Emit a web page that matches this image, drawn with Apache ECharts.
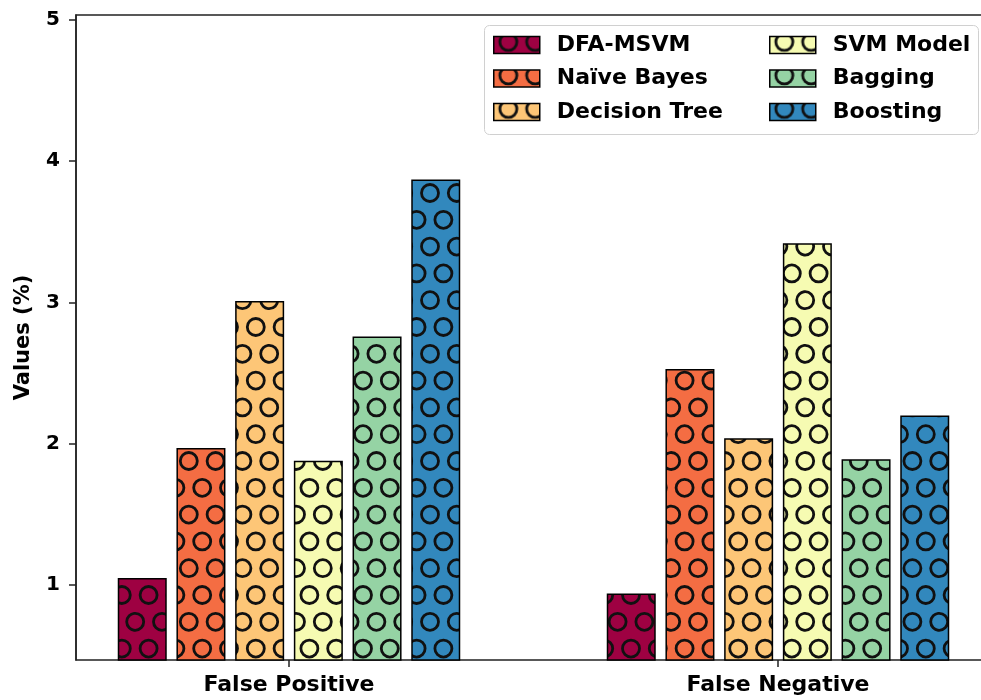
<!DOCTYPE html>
<html><head><meta charset="utf-8">
<script src="https://cdn.jsdelivr.net/npm/echarts@6/dist/echarts.min.js"></script>
<style>html,body{margin:0;padding:0;background:#fff}#c{width:981px;height:700px}</style>
</head><body><div id="c"></div>
<script>
const categories = ['False Positive', 'False Negative'];
const seriesNames = ['DFA-MSVM', 'Naïve Bayes', 'Decision Tree', 'SVM Model', 'Bagging', 'Boosting'];
const dfaMsvm = [1.05, 0.94];
const naiveBayes = [1.97, 2.53];
const decisionTree = [3.01, 2.04];
const svmModel = [1.88, 3.42];
const bagging = [2.76, 1.89];
const boosting = [3.87, 2.20];
const yTicks = [1, 2, 3, 4, 5];
const colors = ['#9e0142', '#f46d43', '#fdc677', '#f6fbb2', '#95d3a4', '#3288bd'];

function makePattern(color) {
  const S = 26.8, W = 134, H = 268;
  const c = document.createElement('canvas');
  c.width = W; c.height = H;
  const g = c.getContext('2d');
  g.fillStyle = color; g.fillRect(0, 0, W, H);
  g.strokeStyle = '#111'; g.lineWidth = 2.8;
  for (let k = -1; k <= 10; k++) {
    const y = 5.4 + S * k;
    const xo = (((k % 2) + 2) % 2 === 1) ? 1.2 : 14.6;
    for (let i = -1; i <= 5; i++) {
      const x = xo + S * i;
      g.beginPath(); g.arc(x, y, 8.5, 0, Math.PI * 2); g.stroke();
    }
  }
  return { image: c, repeat: 'repeat' };
}

const seriesData = [dfaMsvm, naiveBayes, decisionTree, svmModel, bagging, boosting];
const font = 'DejaVu Sans';
const chart = echarts.init(document.getElementById('c'), null, { renderer: 'canvas' });
const legendBase = {
  orient: 'vertical', top: 34, itemWidth: 46, itemHeight: 17, itemGap: 11.5, padding: 0,
  selectedMode: false, icon: 'rect',
  textStyle: { fontSize: 22, fontWeight: 'bold', fontFamily: font, color: '#000', lineHeight: 22, padding: [0, 0, 0, 12] },
  itemStyle: { borderColor: '#000', borderWidth: 1.5 }
};
chart.setOption({
  animation: false,
  graphic: [{
    type: 'rect', left: 484, top: 25, z: 0,
    shape: { width: 494, height: 109, r: 5 },
    style: { fill: 'rgba(255,255,255,0.8)', stroke: '#d0d0d0', lineWidth: 1 }
  }],
  legend: [
    Object.assign({}, legendBase, { left: 493, data: seriesNames.slice(0, 3) }),
    Object.assign({}, legendBase, { left: 769, data: seriesNames.slice(3) })
  ],
  grid: [
    { left: 44.5, right: -41.5, top: 15, bottom: 40, outerBoundsMode: 'none' },
    { left: 76, right: -10, top: 15, bottom: 40, show: true, borderColor: '#222', borderWidth: 1.5, outerBoundsMode: 'none' }
  ],
  xAxis: [
    {
      type: 'category', gridIndex: 0, data: categories,
      axisLine: { show: false },
      axisTick: { show: true, alignWithLabel: true, length: 7, lineStyle: { color: '#222', width: 1.5 } },
      axisLabel: { fontSize: 22, fontWeight: 'bold', fontFamily: font, color: '#000', margin: 14 }
    },
    { type: 'value', gridIndex: 1, min: 0, max: 1, show: false }
  ],
  yAxis: [
    { type: 'value', gridIndex: 0, min: 0.47, max: 5.035, show: false },
    {
      type: 'value', gridIndex: 1, min: 0.47, max: 5.035,
      name: 'Values (%)', nameLocation: 'middle', nameGap: 42,
      nameTextStyle: { fontSize: 21, fontWeight: 'bold', fontFamily: font, color: '#000' },
      axisLine: { show: true, lineStyle: { color: '#222', width: 1.5 } },
      axisTick: { show: true, length: 7, customValues: yTicks, lineStyle: { color: '#222', width: 1.5 } },
      axisLabel: { customValues: yTicks, fontSize: 20, fontWeight: 'bold', fontFamily: font, color: '#000', margin: 16 },
      splitLine: { show: false }
    }
  ],
  series: seriesData.map((d, i) => ({
    name: seriesNames[i], type: 'bar', xAxisIndex: 0, yAxisIndex: 0, data: d,
    barWidth: 49, barGap: '19.8%', silent: true,
    itemStyle: { color: makePattern(colors[i]), borderColor: '#000', borderWidth: 1.5 },
    emphasis: { disabled: true }
  }))
});
</script></body></html>
